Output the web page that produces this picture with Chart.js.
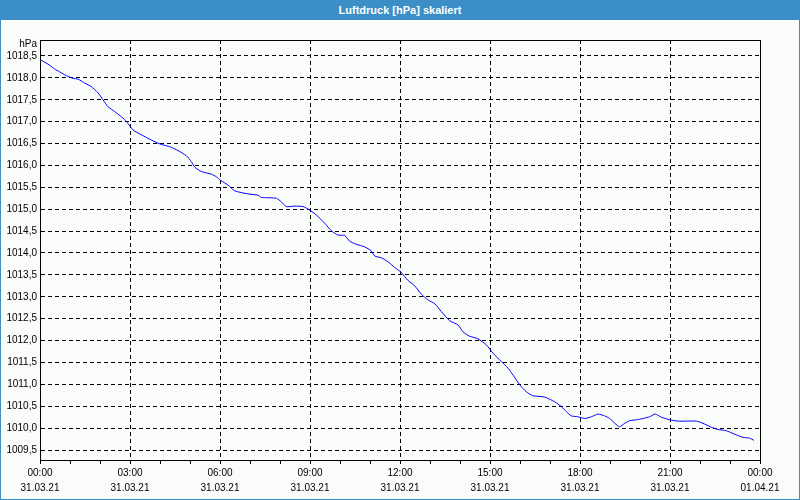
<!DOCTYPE html>
<html>
<head>
<meta charset="utf-8">
<script src="https://cdn.jsdelivr.net/npm/chart.js@4/dist/chart.umd.min.js"></script>
<style>
  html, body { margin: 0; padding: 0; background: #fafcfa; }
  #wrap { position: relative; width: 800px; height: 500px; overflow: hidden; }
  #chart { position: absolute; left: 0; top: 0; }
  #frame { position: absolute; left: 0; top: 0; width: 800px; height: 500px; box-sizing: border-box;
           border: 1px solid #3c8fc6; pointer-events: none; }
  #title { position: absolute; left: 0; top: 0; width: 800px; height: 20px; background: #3c8fc6;
           color: #fff; font: bold 11px "Liberation Sans", sans-serif; line-height: 20px; text-align: center; }
</style>
</head>
<body>
<div id="wrap">
  <canvas id="chart" width="800" height="500"></canvas>
  <div id="frame"></div>
  <div id="title">Luftdruck [hPa] skaliert</div>
</div>
<script>
// Time of day in hours (31.03.21, 00:00 = 0)
const hours = [
  0.00, 0.30, 0.49, 0.65, 0.88, 1.10, 1.27, 1.49, 1.71, 1.93,
  2.10, 2.27, 2.49, 2.77, 2.93, 3.10, 3.38, 3.71, 4.04, 4.32,
  4.60, 4.88, 5.04, 5.16, 5.38, 5.71, 5.88, 6.02, 6.27, 6.49,
  6.93, 7.27, 7.38, 7.88, 8.04, 8.21, 8.49, 8.77, 8.99, 9.21,
  9.49, 9.71, 9.93, 10.16, 10.32, 10.54, 10.82, 11.04, 11.16, 11.38,
  11.60, 11.82, 12.02, 12.27, 12.49, 12.71, 12.93, 13.16, 13.38, 13.66,
  13.93, 14.10, 14.32, 14.60, 14.88, 15.10, 15.38, 15.60, 15.77, 15.99,
  16.21, 16.43, 16.82, 17.16, 17.38, 17.54, 17.71, 17.93, 18.16, 18.38,
  18.60, 18.82, 18.99, 19.16, 19.32, 19.49, 19.66, 19.88, 20.10, 20.32,
  20.51, 20.71, 20.99, 21.27, 21.88, 22.10, 22.38, 22.60, 22.88, 23.16,
  23.43, 23.66, 23.80
];
// Air pressure in hPa
const pressure = [
  1018.42, 1018.30, 1018.20, 1018.14, 1018.05, 1017.99, 1017.97, 1017.88, 1017.80, 1017.66,
  1017.50, 1017.34, 1017.23, 1017.08, 1016.96, 1016.81, 1016.70, 1016.58, 1016.48, 1016.43,
  1016.34, 1016.22, 1016.09, 1015.96, 1015.86, 1015.80, 1015.74, 1015.66, 1015.55, 1015.42,
  1015.35, 1015.32, 1015.27, 1015.25, 1015.17, 1015.06, 1015.07, 1015.06, 1014.98, 1014.87,
  1014.68, 1014.51, 1014.41, 1014.40, 1014.27, 1014.20, 1014.14, 1014.05, 1013.93, 1013.89,
  1013.80, 1013.67, 1013.57, 1013.37, 1013.25, 1013.06, 1012.93, 1012.84, 1012.66, 1012.45,
  1012.36, 1012.20, 1012.10, 1012.04, 1011.90, 1011.71, 1011.52, 1011.37, 1011.21, 1010.99,
  1010.83, 1010.74, 1010.71, 1010.60, 1010.49, 1010.38, 1010.28, 1010.26, 1010.22, 1010.26,
  1010.32, 1010.28, 1010.22, 1010.11, 1010.03, 1010.11, 1010.17, 1010.19, 1010.22, 1010.26,
  1010.32, 1010.25, 1010.19, 1010.16, 1010.16, 1010.11, 1010.02, 1009.97, 1009.94, 1009.86,
  1009.79, 1009.77, 1009.72
];
// X tick labels every 3 hours
const xTickHours = [0, 3, 6, 9, 12, 15, 18, 21, 24];
const xTickTimes = ['00:00', '03:00', '06:00', '09:00', '12:00', '15:00', '18:00', '21:00', '00:00'];
const xTickDates = ['31.03.21', '31.03.21', '31.03.21', '31.03.21', '31.03.21', '31.03.21', '31.03.21', '31.03.21', '01.04.21'];
const yUnit = 'hPa';

const points = hours.map((h, i) => ({ x: h, y: pressure[i] }));
const FONT = { family: '"Liberation Sans", sans-serif', size: 10 };

const frameBorder = {
  id: 'frameBorder',
  afterDraw(chart) {
    const { ctx, chartArea: a } = chart;
    ctx.save();
    ctx.strokeStyle = '#000';
    ctx.lineWidth = 1;
    ctx.strokeRect(Math.round(a.left) + 0.5, Math.round(a.top) + 0.5,
                   Math.round(a.right - a.left), Math.round(a.bottom - a.top));
    ctx.fillStyle = '#000';
    ctx.font = '10px "Liberation Sans", sans-serif';
    ctx.textAlign = 'right';
    ctx.textBaseline = 'middle';
    ctx.fillText(yUnit, a.left - 3, a.top + 4);
    ctx.restore();
  }
};

new Chart(document.getElementById('chart'), {
  type: 'line',
  data: {
    datasets: [{
      data: points,
      borderColor: '#0000ff',
      borderWidth: 1,
      pointRadius: 0,
      tension: 0.2,
      fill: false
    }]
  },
  options: {
    responsive: false,
    animation: false,
    events: [],
    layout: { padding: { top: 40, right: 40, left: 0, bottom: 0 } },
    plugins: { legend: { display: false }, tooltip: { enabled: false }, title: { display: false } },
    scales: {
      x: {
        type: 'linear',
        min: 0, max: 24,
        afterFit(s) { s.height = 40; },
        afterBuildTicks(s) { s.ticks = Array.from({ length: 25 }, (_, i) => ({ value: i })); },
        ticks: {
          autoSkip: false, maxRotation: 0, color: '#000', padding: 2,
          font: { ...FONT, lineHeight: 1.5 },
          callback(v) {
            const k = xTickHours.indexOf(v);
            return k >= 0 ? [xTickTimes[k], xTickDates[k]] : '';
          }
        },
        grid: {
          color(c) { const v = c.tick && c.tick.value; return (v % 3 === 0 && v > 0 && v < 24) ? '#000' : 'rgba(0,0,0,0)'; },
          tickColor: '#000', tickLength: 4, drawTicks: true, lineWidth: 1
        },
        border: { display: true, color: '#000', dash: [4, 3] }
      },
      y: {
        min: 1009.272, max: 1018.865,
        afterFit(s) { s.width = 40; },
        ticks: {
          stepSize: 0.5, includeBounds: false, color: '#000', padding: 3, font: FONT,
          callback(v) { return v.toFixed(1).replace('.', ','); }
        },
        grid: { color: '#000', drawTicks: false, lineWidth: 1 },
        border: { display: true, color: '#000', dash: [4, 3] }
      }
    }
  },
  plugins: [frameBorder]
});
</script>
</body>
</html>
